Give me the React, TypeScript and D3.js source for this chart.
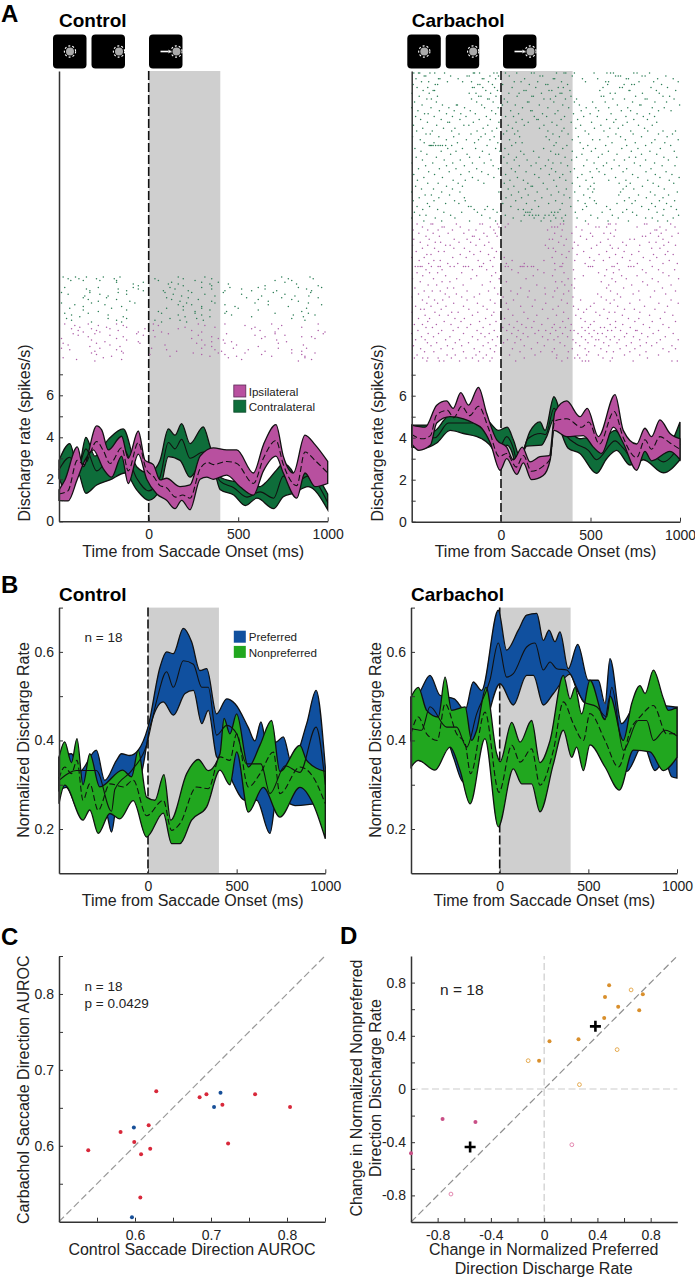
import { useEffect, useRef } from "react";
import * as d3 from "d3";

type Pt = [number, number];

// Panel A control, [time ms, spikes/s]
const ctrlIpsiHi: Pt[] = [[-500,1.5],[-467,1.97],[-398,3.54],[-365,2.6],[-290,4.54],[-262,4.35],[-225,3.4],[-151,4.05],[-114,3.0],[-58,4.3],[-20,2.9],[26,2.7],[63,1.97],[100,2.05],[175,1.65],[231,1.73],[287,3.1],[361,3.5],[436,3.4],[492,3.4],[585,2.3],[641,3.65],[711,4.6],[752,3.1],[808,2.3],[873,4.1],[929,3.65],[1000,2.85]];
const ctrlIpsiLo: Pt[] = [[-500,1.0],[-449,0.97],[-398,2.0],[-356,2.9],[-309,3.4],[-253,2.5],[-207,2.1],[-151,3.1],[-114,1.8],[-58,3.2],[-11,2.0],[45,1.3],[100,1.0],[147,0.6],[184,1.0],[231,0.55],[287,2.0],[324,2.1],[361,2.0],[436,2.2],[510,1.65],[585,1.25],[641,2.4],[711,3.1],[752,2.3],[827,1.1],[873,2.3],[929,1.65],[1000,1.8]];
const ctrlIpsiMid: Pt[] = [[-500,1.3],[-450,1.45],[-398,2.9],[-360,2.7],[-290,3.8],[-255,3.4],[-215,2.75],[-150,3.5],[-114,2.4],[-58,3.75],[-15,2.5],[30,2.1],[63,1.7],[100,1.6],[150,1.15],[190,1.25],[231,1.1],[287,2.5],[330,2.8],[361,2.7],[436,2.85],[492,2.75],[585,1.8],[641,3.0],[711,3.85],[752,2.7],[827,1.7],[873,3.3],[929,2.9],[1000,2.3]];
const ctrlContraHi: Pt[] = [[-500,2.9],[-440,3.7],[-393,2.5],[-350,4.0],[-300,3.1],[-225,3.9],[-142,4.4],[-67,2.6],[0,2.3],[45,2.6],[63,2.9],[110,4.4],[147,4.1],[184,4.65],[231,3.7],[305,4.5],[342,3.6],[400,2.1],[475,1.9],[549,1.8],[622,1.65],[660,1.9],[715,2.45],[752,2.75],[808,2.3],[827,1.8],[890,2.45],[1000,1.3]];
const ctrlContraLo: Pt[] = [[-500,2.05],[-449,1.33],[-398,2.4],[-350,1.33],[-290,1.73],[-216,1.97],[-132,2.3],[-67,1.5],[0,1.0],[63,1.5],[110,3.08],[175,2.9],[231,2.1],[287,2.75],[342,3.08],[400,1.5],[475,1.25],[540,0.75],[605,1.1],[698,0.6],[752,1.17],[808,1.33],[890,1.65],[1000,0.55]];
const ctrlContraMid: Pt[] = [[-500,2.45],[-440,3.05],[-398,2.45],[-350,3.45],[-290,2.4],[-225,3.0],[-142,3.45],[-67,2.05],[0,1.45],[63,2.1],[110,3.75],[147,3.45],[184,3.9],[231,3.0],[305,3.3],[342,2.9],[400,1.9],[475,1.6],[549,1.15],[622,1.4],[698,1.1],[752,2.15],[808,1.75],[890,2.15],[1000,0.9]];

// Panel A carbachol
const carbContraHi: Pt[] = [[-500,4.6],[-415,4.6],[-378,4.3],[-300,5.0],[-230,5.15],[-126,5.3],[-60,4.7],[-15,4.35],[35,4.5],[69,3.9],[106,3.1],[162,4.3],[218,4.75],[246,4.35],[296,5.95],[348,4.7],[395,4.2],[441,3.95],[488,4.0],[534,3.65],[637,4.35],[683,3.9],[758,3.2],[814,3.9],[907,3.35],[1000,4.75]];
const carbContraLo: Pt[] = [[-500,3.55],[-434,3.5],[-360,3.75],[-285,4.35],[-210,4.2],[-108,3.95],[-43,3.4],[-11,2.6],[32,3.65],[69,3.1],[88,2.3],[143,3.6],[227,3.65],[255,4.05],[296,4.9],[375,3.5],[441,3.25],[534,2.3],[590,3.0],[646,3.4],[720,2.7],[795,2.95],[907,2.33],[1000,2.95]];
const carbContraMid: Pt[] = [[-500,4.05],[-420,4.05],[-370,4.0],[-295,4.7],[-220,4.7],[-120,4.7],[-50,4.05],[-13,3.5],[32,4.05],[69,3.5],[95,2.7],[150,3.95],[222,4.2],[250,4.15],[296,5.4],[365,4.1],[420,3.7],[488,3.4],[534,2.95],[637,3.85],[683,3.5],[740,2.95],[814,3.4],[907,2.85],[1000,3.7]];
const carbIpsiHi: Pt[] = [[-500,4.6],[-425,4.5],[-360,5.55],[-305,5.75],[-268,5.4],[-225,6.15],[-182,5.55],[-126,6.4],[-80,5.15],[-24,3.9],[32,3.55],[69,2.95],[119,3.55],[162,2.85],[218,3.1],[270,3.15],[302,5.25],[367,5.75],[441,5.0],[482,5.4],[544,4.05],[637,6.05],[683,4.35],[758,3.7],[804,4.45],[841,4.05],[888,4.85],[944,4.2],[1000,3.95]];
const carbIpsiLo: Pt[] = [[-500,3.7],[-460,3.4],[-395,3.65],[-360,4.7],[-285,5.0],[-210,4.9],[-155,4.7],[-108,4.45],[-60,3.75],[-5,2.45],[32,3.0],[88,2.25],[125,2.8],[170,2.0],[236,2.2],[275,2.95],[296,4.35],[367,4.05],[460,4.1],[516,3.55],[562,3.25],[628,4.5],[683,3.75],[758,2.45],[804,3.35],[841,2.9],[944,3.35],[1000,2.95]];
const carbIpsiMid: Pt[] = [[-500,4.15],[-440,3.95],[-395,4.1],[-360,5.1],[-300,5.3],[-265,4.95],[-220,5.5],[-175,5.05],[-126,5.5],[-70,4.45],[-10,3.1],[32,3.25],[85,2.6],[125,3.15],[170,2.4],[236,2.65],[275,3.0],[300,4.8],[367,4.9],[450,4.5],[490,4.75],[550,3.7],[632,5.25],[683,4.0],[758,3.05],[804,3.9],[841,3.45],[888,4.05],[944,3.75],[1000,3.45]];

// Panel B control, [time ms, normalized rate]
const ctrlPrefHi: Pt[] = [[-500,0.362],[-430,0.37],[-384,0.33],[-290,0.378],[-243,0.31],[-177,0.355],[-149,0.37],[-102,0.366],[-55,0.378],[0,0.43],[68,0.566],[105,0.6],[143,0.596],[199,0.653],[246,0.623],[293,0.558],[331,0.562],[387,0.46],[444,0.494],[491,0.483],[566,0.429],[603,0.399],[637,0.442],[669,0.393],[726,0.397],[763,0.408],[810,0.348],[895,0.438],[948,0.513],[1000,0.34]];
const ctrlPrefLo: Pt[] = [[-500,0.287],[-459,0.294],[-384,0.238],[-337,0.265],[-233,0.235],[-205,0.193],[-177,0.258],[-120,0.303],[-45,0.317],[11,0.43],[86,0.487],[143,0.457],[209,0.506],[256,0.513],[303,0.438],[340,0.468],[387,0.363],[444,0.34],[481,0.303],[547,0.265],[613,0.265],[688,0.19],[726,0.272],[829,0.253],[1000,0.26]];
const ctrlPrefMid: Pt[] = [[-500,0.31],[-402,0.332],[-290,0.332],[-205,0.24],[-186,0.29],[-92,0.332],[-8,0.39],[49,0.49],[105,0.555],[143,0.52],[199,0.58],[256,0.572],[303,0.52],[340,0.52],[387,0.412],[444,0.434],[500,0.415],[556,0.347],[637,0.347],[688,0.28],[773,0.343],[857,0.328],[948,0.43],[1000,0.3]];
const ctrlNonHi: Pt[] = [[-500,0.362],[-468,0.397],[-430,0.35],[-399,0.404],[-365,0.3],[-327,0.37],[-271,0.295],[-143,0.333],[-92,0.318],[-55,0.378],[-8,0.272],[39,0.265],[90,0.323],[128,0.22],[218,0.325],[284,0.357],[340,0.332],[406,0.37],[429,0.45],[462,0.415],[500,0.46],[566,0.34],[632,0.39],[697,0.445],[744,0.33],[857,0.389],[895,0.355],[1000,0.33]];
const ctrlNonLo: Pt[] = [[-500,0.257],[-468,0.299],[-365,0.22],[-327,0.243],[-280,0.19],[-214,0.235],[-158,0.223],[-83,0.264],[-8,0.182],[86,0.236],[133,0.167],[180,0.167],[246,0.22],[331,0.25],[406,0.333],[462,0.3],[500,0.374],[566,0.238],[650,0.294],[744,0.227],[857,0.294],[932,0.256],[1000,0.178]];
const ctrlNonMid: Pt[] = [[-500,0.314],[-468,0.34],[-430,0.325],[-399,0.355],[-365,0.265],[-327,0.302],[-280,0.242],[-214,0.302],[-139,0.295],[-83,0.31],[-8,0.23],[86,0.265],[133,0.197],[180,0.212],[274,0.295],[340,0.291],[406,0.363],[462,0.355],[500,0.415],[566,0.295],[632,0.325],[707,0.374],[744,0.28],[857,0.34],[932,0.317],[1000,0.257]];

// Panel B carbachol
const carbPrefHi: Pt[] = [[-500,0.498],[-459,0.505],[-393,0.547],[-337,0.502],[-256,0.494],[-195,0.468],[-149,0.532],[-102,0.513],[-8,0.694],[39,0.604],[105,0.649],[152,0.683],[209,0.687],[246,0.626],[278,0.649],[312,0.623],[340,0.645],[387,0.562],[440,0.617],[500,0.536],[556,0.536],[594,0.483],[622,0.585],[688,0.438],[773,0.483],[1000,0.475]];
const carbPrefLo: Pt[] = [[-500,0.4],[-459,0.355],[-393,0.35],[-337,0.378],[-299,0.4],[-261,0.362],[-205,0.306],[-92,0.415],[2,0.528],[77,0.48],[152,0.547],[190,0.547],[246,0.48],[303,0.506],[397,0.55],[434,0.515],[509,0.47],[585,0.45],[660,0.41],[716,0.33],[810,0.39],[876,0.332],[932,0.355],[970,0.318],[1000,0.315]];
const carbPrefMid: Pt[] = [[-500,0.427],[-440,0.423],[-393,0.476],[-299,0.43],[-243,0.43],[-186,0.385],[-130,0.46],[-55,0.536],[-8,0.62],[39,0.543],[77,0.551],[152,0.611],[199,0.62],[246,0.559],[284,0.577],[321,0.562],[378,0.559],[434,0.52],[472,0.487],[547,0.476],[603,0.453],[632,0.52],[697,0.378],[782,0.445],[829,0.445],[867,0.4],[932,0.423],[1000,0.41]];
const carbNonHi: Pt[] = [[-500,0.498],[-459,0.52],[-412,0.468],[-346,0.453],[-308,0.543],[-271,0.468],[-195,0.476],[-158,0.4],[-130,0.423],[-77,0.52],[-17,0.37],[2,0.352],[68,0.441],[115,0.396],[180,0.445],[227,0.35],[284,0.4],[359,0.547],[397,0.494],[425,0.52],[462,0.46],[509,0.536],[594,0.447],[622,0.5],[697,0.4],[744,0.483],[791,0.524],[820,0.506],[867,0.559],[923,0.495],[951,0.468],[1000,0.475]];
const carbNonLo: Pt[] = [[-500,0.34],[-459,0.355],[-365,0.333],[-280,0.385],[-224,0.333],[-167,0.257],[-83,0.404],[-8,0.205],[77,0.336],[124,0.302],[180,0.302],[227,0.239],[303,0.347],[359,0.423],[406,0.362],[434,0.385],[472,0.332],[509,0.39],[594,0.34],[675,0.288],[754,0.378],[848,0.374],[923,0.332],[1000,0.362]];
const carbNonMid: Pt[] = [[-500,0.415],[-459,0.453],[-412,0.415],[-352,0.4],[-308,0.483],[-243,0.415],[-195,0.393],[-164,0.325],[-83,0.464],[-4,0.283],[68,0.389],[115,0.351],[180,0.381],[227,0.299],[303,0.378],[359,0.487],[415,0.438],[472,0.4],[509,0.461],[594,0.4],[669,0.34],[744,0.43],[791,0.453],[867,0.479],[942,0.415],[1000,0.415]];

// Raster rows, top to bottom, spike times in ms. The control rows are read off
// the picture in coarse strips; the carbachol rows only follow its clumps, blank
// patches and density, so neither block reproduces every dot one for one.
const ctrlContraRows: number[][] = [
  [-477,-408,-347,-253,-160,165,314,743,901],
  [-449,-389,-291,-192,35,193,352,780,919],
  [-434,-365,-272,-179,54,259,706,799],
  [-179,-30,128,296,389,761],
  [-86,110,165,342,445,826],
  [-58,193,352,650,947],
  [-468,-281,-86,119,296,454,612,836,966],
  [-347,-170,-58,147,352,519,650,882],
  [-328,-123,-30,82,221,426,575,715,910],
  [-486,-328,-170,91,240,417,696,905],
  [-449,-272,-123,137,314,519,761],
  [-356,-226,184,370,631,817,895],
  [-365,-235,100,221,547,743,947],
  [-337,-179,128,277,612,799],
  [-281,-105,175,352,668,836],
  [-486,-319,-77,212,370,594,892],
  [-412,-244,165,240,426,668,966],
  [-365,-151,193,296,482,780],
  [-440,-207,100,296,500,882],
  [-365,-123,193,342,612],
  [-281,54,259,435,855],
  [-468,-337,72,259,426,706,892],
  [-430,-226,165,296,463,808,929],
  [-384,-142,203,342,575,864],
  [-458,-226,-123,119,268,799],
  [-430,-179,35,175,305,873],
  [-319,-151,72,212],
];
const ctrlIpsiRows: number[][] = [
  [-468,-337,-179,26,277,426,687,947],
  [-412,-281,-142,54,314,538,743],
  [-384,-235,-123,203,370,594,855],
  [-430,-319,-216,-21,165,575,724],
  [-393,-291,-170,26,240,622,947],
  [-365,-272,-58,72,296,706,985],
  [-421,-300,-67,110,435,706,975],
  [-393,-216,-30,277,594,761],
  [-337,-142,35,352,650,855,910],
  [-486,-179,240,389,631,929],
  [-319,-123,296,417,715],
  [-244,-58,352,463,770],
  [-477,-291,-49,268,426,724],
  [-449,-216,91,314,491,864],
  [-328,-160,352,612],
  [-486,-272,16,296,473,724,882],
  [-440,-179,100,370,556,799],
  [-300,-151,156,407,650,855],
  [-319,-142,249,389,538,799,929],
  [-291,7,296,426,631,855],
  [-207,119,342,491,687,873],
  [-477,-253,445,873],
  [-402,-151,519,910],
  [-300,836],
];
const carbContraRows: number[][] = [
  [-488,-462,-455,-398,-371,-316,-155,-148,-120,-40,-22,25,88,170,185,310,352,362,410,520,592,612,628,742,760,830],
  [-430,-421,-282,-190,-178,-62,-14,46,218,233,398,640,655,668,788,805,921],
  [-476,-350,-342,-240,-105,-96,-30,132,292,300,455,540,700,712,875,962],
  [-445,-405,-300,-215,-165,-70,74,112,205,338,472,585,601,771,853,990],
  [-492,-368,-355,-130,-118,-48,9,158,250,262,372,596,688,730,745,897],
  [-470,-410,-160,-150,-102,-36,62,194,320,348,570,663,678,838,930],
  [-436,-380,-372,-85,-20,128,140,268,284,385,552,715,720,868,976],
  [-498,-402,-178,-140,-58,44,101,226,330,340,610,638,790,884],
  [-458,-356,-125,-112,-28,90,172,181,305,391,560,574,752,905,942],
  [-415,-390,-165,-75,-66,18,240,276,360,422,625,690,805,816,967],
  [-484,-362,-136,-44,36,148,156,295,410,512,582,735,860,925],
  [-442,-328,-250,-244,-108,8,80,214,345,438,650,775,782,998],
  [-500,-392,-292,-204,-92,-16,120,262,378,476,530,602,708,845,912],
  [-465,-345,-262,-172,-52,54,166,174,318,448,545,672,724,880,950],
  [-428,-408,-305,-225,-144,-30,98,232,302,405,498,615,760,830],
  [-478,-374,-272,-196,-82,26,70,186,255,355,462,538,698,795,858],
  [-450,-335,-230,-122,-60,118,200,208,336,428,590,642,742,818],
  [-412,-298,-288,-155,-12,84,152,285,392,506,630,705,870],
  [-490,-360,-208,-180,-74,40,130,240,312,445,558,680,768,845],
  [-438,-322,-258,-100,-24,64,215,352,418,522,608,655,802],
  [-472,-385,-276,-134,-50,32,94,262,340,470,575,725,820,905,975],
  [-420,-396,-235,-168,-88,14,76,290,375,490,642,738,880,958],
  [-495,-348,-265,-112,-38,104,252,326,432,598,668,785,928],
  [-452,-306,-194,-126,-62,48,270,398,512,552,695,860,990],
  [-430,-375,-244,-148,-18,82,118,308,442,620,750,842,915],
  [-402,-395,-388,-380,-366,-352,-340,-328,-310,-276,-78,60,296,368,485,585,702,808,948],
  [-482,-298,-216,-142,-30,22,238,345,460,528,675,765,890],
  [-448,-335,-252,-104,-6,110,182,278,398,505,600,728,832,968],
  [-415,-282,-190,-66,42,128,305,322,452,565,648,785,870],
  [-475,-362,-176,-120,16,86,212,358,422,544,716,752,910,982],
  [-440,-318,-228,-56,74,146,265,395,480,632,690,808,935],
  [-498,-382,-270,-160,-94,34,196,290,335,520,590,745,858],
  [-422,-305,-205,-44,102,168,248,372,462,572,660,778,900,972],
  [-462,-345,-252,-136,-14,58,222,282,410,535,618,702,838],
  [-405,-290,-178,-108,80,140,305,388,498,548,682,810,922],
  [-488,-372,-225,-72,26,188,270,345,452,580,735,862,955],
  [-432,-328,-160,-40,92,212,328,428,510,640,765,888,995],
  [-468,-268,-200,-128,50,125,295,362,475,602,698,820,940],
  [-410,-352,-240,-96,18,150,236,398,520,660,722,850,965],
  [-478,-305,-216,72,168,176,310,440,500,700,790,880],
  [-445,-378,-272,40,136,258,365,486,520,682,742,912],
  [-500,-332,-230,-12,98,202,322,412,512,668,835,985],
  [-425,-390,-288,58,152,280,352,462,658,768,860,936],
  [-458,-348,-205,28,115,228,384,496,716,812,905],
  [-492,-375,-260,-200,82,190,305,430,522,690,750,885,970],
  [-412,-310,-236,10,142,266,342,470,532,648,732,842,925],
  [-470,-400,-182,-168,-76,55,210,390,478,590,786,862,950],
  [-438,-355,-150,-90,-44,96,125,172,330,456,610,702,825,910,980],
  [-485,-320,-220,-132,-22,138,150,162,282,300,318,415,565,680,735,872],
  [-455,-420,-282,-108,24,130,158,176,195,210,246,268,295,360,502,622,758,905,992],
  [-500,-368,-258,-62,68,185,240,306,340,425,540,655,808,845,962],
  [-432,-332,-176,-30,112,224,278,350,472,598,712,876,930],
];
const carbIpsiRows: number[][] = [
  [-470,-392,-382,-250,-118,-104,-20,40,332,350,488,600,610,642,802,815,948],
  [-440,-330,-318,-228,-60,-12,24,284,300,316,420,530,548,590,760,888,972],
  [-492,-410,-352,-272,-180,-140,-40,260,342,452,640,860,870,922],
  [-460,-380,-296,-208,-96,-32,300,396,500,575,612,835,895,990],
  [-420,-345,-160,-150,-78,-22,336,444,512,632,790,808,880,955],
  [-488,-402,-262,-190,-120,270,288,365,478,598,720,745,905],
  [-452,-368,-338,-235,-170,-68,322,410,556,680,828,866,936],
  [-495,-410,-310,-285,-140,-92,248,352,430,535,610,700,775,910,975],
  [-440,-372,-264,-205,-50,265,292,400,505,622,655,842,888],
  [-475,-350,-318,-175,-115,-26,305,380,462,590,688,770,932],
  [-415,-392,-228,-152,-70,340,425,548,640,730,852,918,962],
  [-500,-430,-270,-195,-38,18,286,365,495,606,678,795,870],
  [-458,-376,-340,-128,-60,62,240,412,520,572,720,832,940],
  [-405,-298,-242,-98,30,130,300,345,470,650,762,905,985],
  [-480,-465,-452,-442,-390,-352,-340,-285,-262,-210,-198,-182,-120,-108,-46,24,40,108,118,128,148,170,182,330,340,488,500,512,620,632,712,726,742,845],
  [-420,-330,-160,-80,60,205,302,405,590,660,790,880,970],
  [-470,-400,-355,-220,-30,96,240,352,545,628,810,905],
  [-438,-310,-136,-52,180,288,460,580,674,760,938],
  [-495,-378,-248,-168,-10,140,375,412,620,700,845,992],
  [-452,-330,-286,-60,30,305,340,560,640,792,878],
  [-408,-360,-212,-105,200,356,395,602,730,818,950],
  [-482,-300,-265,-36,110,245,315,410,590,685,902],
  [-430,-385,-340,-190,-70,55,158,300,378,612,770,858,975],
  [-462,-312,-250,-120,-18,92,248,350,540,650,738,920],
  [-498,-405,-290,-220,-150,12,150,290,402,560,668,835],
  [-440,-372,-326,-190,-60,70,190,338,445,588,632,775,950],
  [-415,-355,-265,-132,-34,30,250,370,520,610,720,882,990],
  [-478,-392,-308,-210,-100,110,175,320,405,500,652,802,930],
  [-450,-430,-335,-180,-78,40,232,290,432,478,575,690,745,860],
  [-498,-370,-276,-240,-130,-40,128,350,462,530,604,636,776,915],
  [-425,-345,-296,-160,-52,66,200,310,418,552,678,830,960],
  [-462,-400,-258,-205,-86,20,150,262,376,446,595,712,770,890],
  [-410,-318,-224,-120,-28,90,184,345,470,520,640,748,845,975],
  [-485,-440,-362,-280,-170,-62,46,116,228,298,392,500,610,680,795,905],
  [-420,-384,-240,-190,-100,10,72,140,172,286,330,360,452,488,556,578,640,722,830,938],
  [-465,-332,-268,-134,-38,32,96,210,250,306,388,408,470,520,596,618,668,752,760,880],
  [-500,-408,-350,-210,-112,-66,60,124,190,276,344,430,492,540,566,702,786,850,962],
  [-445,-378,-286,-160,-90,-20,88,150,232,318,372,450,508,588,634,690,740,820,918],
  [-478,-425,-310,-232,-130,-48,36,110,262,296,402,472,530,546,610,660,775,890,990],
  [-412,-360,-256,-182,-72,14,78,204,330,418,486,574,648,728,812,870],
  [-490,-392,-300,-220,-100,-28,130,242,356,440,524,602,700,778,842,955],
  [-450,-336,-270,-150,-60,64,170,298,398,470,558,665,748,905,975],
  [-428,-376,-210,-120,-36,106,222,286,376,490,590,628,720,810,938],
  [-470,-302,-256,-140,-82,48,190,312,428,478,544,690,775,880],
  [-485,-438,-410,-352,-278,-196,-160,-100,-50,130,310,372,412,440,570,622,818],
  [-415,-345,-320,-232,-126,-62,82,340,454,472,490,610,738,955,985],
];

const ctrlEvents = [53, 91.5, 149];
const carbEvents = [407.3, 445.7, 503];

// Panel C, AUROC control / carbachol
const cRedX = [0.5385,0.581,0.599,0.608,0.62,0.618,0.628,0.607,0.685,0.694,0.715,0.7225,0.758,0.804];
const cRedY = [0.594,0.618,0.605,0.589,0.596,0.627,0.672,0.532,0.664,0.668,0.654,0.603,0.668,0.651];
const cBlueX = [0.5985,0.596,0.704,0.7125];
const cBlueY = [0.624,0.506,0.651,0.67];

// Panel D, change in preferred / nonpreferred
const dOrangeX = [0.488,0.457,0.741,0.556,0.714,0.451,0.258,0.04,-0.038];
const dOrangeY = [0.78,0.692,0.712,0.619,0.592,0.534,0.374,0.359,0.213];
const dOrangeOpenX = [0.653,0.548,-0.12,0.265];
const dOrangeOpenY = [0.745,0.296,0.213,0.033];
const dPinkX = [-0.763,-0.516,-1.0];
const dPinkY = [-0.226,-0.248,-0.484];
const dPinkOpenX = [0.208,-0.7];
const dPinkOpenY = [-0.419,-0.79];
const dMeanX = [0.385,-0.556];
const dMeanY = [0.471,-0.436];

const FONT = "'Liberation Sans', Arial, sans-serif";
const INK = "#222";
const AXIS = "#333";
const PINK = "#b8509f";
const DARK_GREEN = "#0e6d3a";
const BLUE = "#10509f";
const GREEN = "#21a71f";

type Sel = d3.Selection<SVGGElement, unknown, null, undefined>;
type Scale = d3.ScaleLinear<number, number>;

function label(g: Sel, x: number, y: number, str: string, size: number, opts: { anchor?: string; weight?: string; rotate?: boolean } = {}) {
  g.append("text")
    .attr("transform", opts.rotate ? `translate(${x},${y}) rotate(-90)` : `translate(${x},${y})`)
    .attr("text-anchor", opts.anchor ?? "start")
    .attr("font-family", FONT)
    .attr("font-size", size)
    .attr("font-weight", opts.weight ?? "normal")
    .attr("fill", opts.weight ? "#000" : INK)
    .text(str);
}

function axes(g: Sel, x: Scale, y: Scale, xTicks: number[], yTicks: number[], xFmt: (d: number) => string, yFmt: (d: number) => string) {
  const xAxis = d3.axisBottom(x).tickValues(xTicks).tickFormat((d) => xFmt(+d)).tickSizeInner(-4).tickSizeOuter(0).tickPadding(8);
  const yAxis = d3.axisLeft(y).tickValues(yTicks).tickFormat((d) => yFmt(+d)).tickSizeInner(-4).tickSizeOuter(0).tickPadding(5);
  const xG = g.append("g").attr("transform", `translate(0,${y.range()[0]})`).call(xAxis);
  const yG = g.append("g").attr("transform", `translate(${x.range()[0]},0)`).call(yAxis);
  for (const a of [xG, yG]) {
    a.selectAll(".domain").attr("stroke", AXIS).attr("stroke-width", 1.5);
    a.selectAll(".tick line").attr("stroke", AXIS).attr("stroke-width", 1);
    a.selectAll("text").attr("fill", INK).attr("font-family", FONT).attr("font-size", 14);
  }
}

function drawBand(g: Sel, x: Scale, y: Scale, hi: Pt[], lo: Pt[], fill: string) {
  const line = d3.line<Pt>().x((d) => x(d[0])).y((d) => y(d[1])).curve(d3.curveMonotoneX);
  const back = line([...lo].reverse()) ?? "";
  g.append("path")
    .attr("d", `${line(hi)}L${back.slice(1)}Z`)
    .attr("fill", fill)
    .attr("stroke", "#111")
    .attr("stroke-width", 1.3);
}

function drawMid(g: Sel, x: Scale, y: Scale, mid: Pt[], dashed: boolean) {
  const line = d3.line<Pt>().x((d) => x(d[0])).y((d) => y(d[1])).curve(d3.curveMonotoneX);
  g.append("path")
    .attr("d", line(mid))
    .attr("fill", "none")
    .attr("stroke", "#111")
    .attr("stroke-width", 1.1)
    .attr("stroke-dasharray", dashed ? "6,3" : null);
}

function saccadeWindow(g: Sel, x: Scale, y: Scale) {
  const [bottom, top] = y.range();
  g.append("rect").attr("x", x(0)).attr("y", top).attr("width", x(400) - x(0)).attr("height", bottom - top).attr("fill", "#cfcfcf");
  g.append("line").attr("x1", x(0)).attr("x2", x(0)).attr("y1", top).attr("y2", bottom)
    .attr("stroke", "#111").attr("stroke-width", 1.6).attr("stroke-dasharray", "9,3");
}

function raster(g: Sel, x: Scale, rows: number[][], top: number, bottom: number, color: string) {
  const rowY = d3.scaleLinear().domain([0, rows.length - 1]).range([top, bottom]);
  rows.forEach((times, i) => {
    g.append("g").selectAll("circle").data(times).join("circle")
      .attr("cx", (d) => x(d)).attr("cy", rowY(i))
      .attr("r", 0.75)
      .attr("fill", color);
  });
}

function eventIcon(g: Sel, left: number, cx: number, arrow: boolean) {
  g.append("rect").attr("x", left).attr("y", 34.5).attr("width", 33.5).attr("height", 34).attr("rx", 4).attr("fill", "#000");
  g.append("circle").attr("cx", cx).attr("cy", 51.5).attr("r", 4).attr("fill", "#aaa");
  g.append("circle").attr("cx", cx).attr("cy", 51.5).attr("r", 5.6).attr("fill", "none")
    .attr("stroke", "#fff").attr("stroke-width", 1.1).attr("stroke-dasharray", "2,2");
  if (arrow) {
    g.append("path").attr("d", `M${cx - 16},51.5H${cx - 8}`).attr("stroke", "#fff").attr("stroke-width", 1.6);
    g.append("path").attr("d", `M${cx - 8},49.5L${cx - 5.6},51.5L${cx - 8},53.5Z`).attr("fill", "#fff");
  }
}

function panelA(g: Sel, left: number, zero: number, right: number, base: number, title: string, events: number[],
  contra: [Pt[], Pt[], Pt[]], ipsi: [Pt[], Pt[], Pt[]], contraRows: number[][], ipsiRows: number[][],
  contraSpan: [number, number], ipsiSpan: [number, number]) {
  const x = d3.scaleLinear().domain([-500, 0, 1000]).range([left, zero, right]);
  const y = d3.scaleLinear().domain([0, (base - 71) / 21]).range([base, 71]);
  saccadeWindow(g, x, y);
  raster(g, x, contraRows, contraSpan[0], contraSpan[1], "#2b7d55");
  raster(g, x, ipsiRows, ipsiSpan[0], ipsiSpan[1], "#ad5ea8");
  drawBand(g, x, y, contra[0], contra[1], DARK_GREEN);
  drawMid(g, x, y, contra[2], false);
  drawBand(g, x, y, ipsi[0], ipsi[1], PINK);
  drawMid(g, x, y, ipsi[2], true);
  axes(g, x, y, [0, 500, 1000], [0, 1, 2, 3, 4, 5, 6, 7], String, (d) => (d % 2 === 0 ? String(d) : ""));
  label(g, left, 26.5, title, 19, { weight: "bold" });
  label(g, left - 29, 433, "Discharge rate (spikes/s)", 16, { anchor: "middle", rotate: true });
  label(g, (zero + right) / 2 - 45, 557, "Time from Saccade Onset (ms)", 16, { anchor: "middle" });
  eventIcon(g, events[0], events[0] + 17, false);
  eventIcon(g, events[1], events[1] + 27.5, false);
  eventIcon(g, events[2], events[2] + 27.5, true);
}

function panelB(g: Sel, left: number, zero: number, right: number, title: string,
  pref: [Pt[], Pt[], Pt[]], non: [Pt[], Pt[], Pt[]]) {
  const x = d3.scaleLinear().domain([-500, 0, 1000]).range([left, zero, right]);
  const y = d3.scaleLinear().domain([0.1, 0.7]).range([873.3, 607.6]);
  saccadeWindow(g, x, y);
  drawBand(g, x, y, pref[0], pref[1], BLUE);
  drawBand(g, x, y, non[0], non[1], GREEN);
  drawMid(g, x, y, pref[2], false);
  drawMid(g, x, y, non[2], true);
  axes(g, x, y, [0, 500, 1000], [0.2, 0.3, 0.4, 0.5, 0.6, 0.7], String,
    (d) => (Math.round(d * 10) % 2 === 0 ? d.toFixed(1) : ""));
  label(g, left, 600.7, title, 19, { weight: "bold" });
  label(g, left - 30, 740, "Normalized Discharge Rate", 16, { anchor: "middle", rotate: true });
  label(g, (zero + right) / 2 - 44, 906, "Time from Saccade Onset (ms)", 16, { anchor: "middle" });
}

function dots(g: Sel, x: Scale, y: Scale, xs: number[], ys: number[], color: string, open: boolean) {
  g.append("g").selectAll("circle").data(xs).join("circle")
    .attr("cx", (d) => x(d))
    .attr("cy", (_, i) => y(ys[i]))
    .attr("r", open ? 1.9 : 2)
    .attr("fill", open ? "#fff" : color)
    .attr("stroke", open ? color : "none")
    .attr("stroke-width", 0.9);
}

function panelC(g: Sel) {
  const x = d3.scaleLinear().domain([0.5, 0.85]).range([59, 325]);
  const y = d3.scaleLinear().domain([0.5, 0.85]).range([1221.7, 956]);
  g.append("line").attr("x1", x(0.5)).attr("y1", y(0.5)).attr("x2", x(0.85)).attr("y2", y(0.85))
    .attr("stroke", "#999").attr("stroke-width", 1.2).attr("stroke-dasharray", "7,3.5");
  axes(g, x, y, [0.55, 0.6, 0.65, 0.7, 0.75, 0.8, 0.85], [0.55, 0.6, 0.65, 0.7, 0.75, 0.8, 0.85],
    (d) => (Math.round(d * 100) % 10 === 0 ? d.toFixed(1) : ""),
    (d) => (Math.round(d * 100) % 10 === 0 ? d.toFixed(1) : ""));
  dots(g, x, y, cRedX, cRedY, "#d8283a", false);
  dots(g, x, y, cBlueX, cBlueY, "#174f98", false);
  label(g, 84.5, 991, "n = 18", 13.5);
  label(g, 84.5, 1007.7, "p = 0.0429", 13.5);
  label(g, 192, 1255, "Control Saccade Direction AUROC", 16, { anchor: "middle" });
  label(g, 29, 1089.7, "Carbachol Saccade Direction AUROC", 16, { anchor: "middle", rotate: true });
}

function panelD(g: Sel) {
  const x = d3.scaleLinear().domain([-1, 1]).range([411, 677.3]);
  const y = d3.scaleLinear().domain([-1, 1]).range([1222, 956]);
  const guide = (x1: number, y1: number, x2: number, y2: number, color: string) =>
    g.append("line").attr("x1", x(x1)).attr("y1", y(y1)).attr("x2", x(x2)).attr("y2", y(y2))
      .attr("stroke", color).attr("stroke-width", 1.2).attr("stroke-dasharray", "7,3.5");
  guide(-1, 0, 1, 0, "#ccc");
  guide(0, -1, 0, 1, "#ccc");
  guide(-1, -1, 1, 1, "#8f8f8f");
  const ticks = [-0.8, -0.6, -0.4, -0.2, 0, 0.2, 0.4, 0.6, 0.8];
  const fmt = (d: number) => {
    const n = Math.round(d * 10);
    if (n % 4 !== 0) return "";
    return n === 0 ? "0" : d.toFixed(1);
  };
  axes(g, x, y, ticks, ticks, fmt, fmt);
  dots(g, x, y, dOrangeX, dOrangeY, "#d98f2c", false);
  dots(g, x, y, dOrangeOpenX, dOrangeOpenY, "#e2a23e", true);
  dots(g, x, y, dPinkX, dPinkY, "#c94f86", false);
  dots(g, x, y, dPinkOpenX, dPinkOpenY, "#e07aa6", true);
  g.append("g").selectAll("path").data(dMeanX).join("path")
    .attr("transform", (d, i) => `translate(${x(d)},${y(dMeanY[i])})`)
    .attr("d", "M-5.5,0H5.5M0,-5.5V5.5")
    .attr("stroke", "#000").attr("stroke-width", 2.6);
  label(g, 440, 995, "n = 18", 15.5);
  label(g, 543.7, 1255, "Change in Normalized Preferred", 16, { anchor: "middle" });
  label(g, 543.7, 1274, "Direction Discharge Rate", 16, { anchor: "middle" });
  label(g, 362, 1088, "Change in Normalized Nonpreferred", 16, { anchor: "middle", rotate: true });
  label(g, 381, 1088, "Direction Discharge Rate", 16, { anchor: "middle", rotate: true });
}

function legend(g: Sel, names: string[], colors: string[], top: number, strokes: string[]) {
  names.forEach((name, i) => {
    const y = top + i * 15.2;
    g.append("rect").attr("x", 233.8).attr("y", y).attr("width", 12).attr("height", 12)
      .attr("fill", colors[i]).attr("stroke", strokes[i]).attr("stroke-width", 0.8);
    label(g, 248.7, y + 10.6, name, 11.6);
  });
}

export default function App() {
  const ref = useRef<SVGSVGElement>(null);

  useEffect(() => {
    if (!ref.current) return;
    const svg = d3.select(ref.current);
    svg.selectAll("*").remove();
    const g = svg.append("g") as unknown as Sel;

    panelA(g, 59, 148.7, 327.7, 521.3, "Control", ctrlEvents,
      [ctrlContraHi, ctrlContraLo, ctrlContraMid], [ctrlIpsiHi, ctrlIpsiLo, ctrlIpsiMid],
      ctrlContraRows, ctrlIpsiRows, [277, 322], [324, 361]);
    panelA(g, 411.7, 501, 680, 521.7, "Carbachol", carbEvents,
      [carbContraHi, carbContraLo, carbContraMid], [carbIpsiHi, carbIpsiLo, carbIpsiMid],
      carbContraRows, carbIpsiRows, [73, 221], [224, 361]);
    legend(g, ["Ipsilateral", "Contralateral"], [PINK, DARK_GREEN], 385, ["#5a2a55", "#0a4a28"]);

    panelB(g, 59, 148, 325.3, "Control", [ctrlPrefHi, ctrlPrefLo, ctrlPrefMid], [ctrlNonHi, ctrlNonLo, ctrlNonMid]);
    panelB(g, 411, 499.7, 677, "Carbachol", [carbPrefHi, carbPrefLo, carbPrefMid], [carbNonHi, carbNonLo, carbNonMid]);
    legend(g, ["Preferred", "Nonpreferred"], [BLUE, GREEN], 630.7, ["none", "none"]);
    label(g, 84.5, 641.7, "n = 18", 13.5);

    panelC(g);
    panelD(g);

    label(g, 1, 22, "A", 24, { weight: "bold" });
    label(g, 1, 593, "B", 24, { weight: "bold" });
    label(g, 1, 945, "C", 24, { weight: "bold" });
    label(g, 340, 944, "D", 24, { weight: "bold" });
  }, []);

  return <svg ref={ref} width={695} height={1280} style={{ position: "absolute", left: 0, top: 0, background: "#fff" }} />;
}
